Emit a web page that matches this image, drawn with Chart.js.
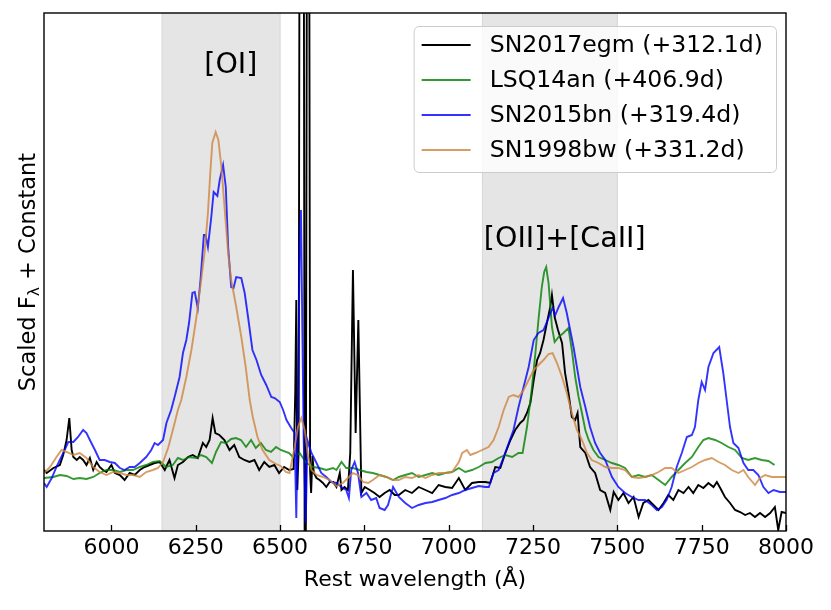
<!DOCTYPE html>
<html><head><meta charset="utf-8">
<script src="https://cdn.jsdelivr.net/npm/chart.js@4.4.1/dist/chart.umd.min.js"></script>
<style>html,body{margin:0;padding:0;background:#fff}canvas{display:block}</style>
</head><body>
<canvas id="c" width="831" height="610"></canvas>
<script>
// ---- data ----
const xTicks = [6000,6250,6500,6750,7000,7250,7500,7750,8000];
const bandStart = [6150, 7100];
const bandEnd = [6500, 7500];
const lineNames = ['[OI]', '[OII]+[CaII]'];
const lineNameX = [6354, 7344];
const lineNameY = [465, 291];
const seriesLabels = ['SN2017egm (+312.1d)', 'LSQ14an (+406.9d)', 'SN2015bn (+319.4d)', 'SN1998bw (+331.2d)'];

const egmWave = [5800,5808,5828,5847,5857,5867,5875,5882,5887,5897,5906,5916,5926,5936,5946,5956,5965,5975,5985,6000,
 6010,6025,6039,6054,6069,6084,6098,6113,6128,6143,6158,6172,6187,6197,6212,6227,6241,6256,6271,6281,
 6291,6300,6308,6320,6335,6350,6364,6379,6394,6409,6424,6438,6453,6468,6483,6497,6512,6527,
 6540,6545,6548,6551,6555,6558,6562,6570,6573,6576,6580,6586,6589,6592,6596,6600,
 6608,6617,6627,6637,6647,6657,6667,6677,6682,6691,6701,6708,6716,6724,6732,6741,6751,6766,6780,6795,6810,6825,6840,
 6852,6871,6891,6911,6931,6951,6970,6990,7010,7030,7049,7069,7089,7109,7123,7138,7153,7168,7183,7197,
 7212,7222,7232,7242,7252,7262,7271,7281,7291,7301,7306,7314,7324,7336,7345,7355,7365,7375,7382,7390,
 7405,7419,7434,7449,7464,7479,7489,7503,7518,7533,7548,7563,7577,7592,7607,7622,7637,7651,7666,7681,
 7696,7711,7725,7740,7755,7770,7785,7795,7805,7819,7834,7849,7864,7879,7893,7908,7923,7938,7953,7967,
 7977,7987,8000];
const egmFlux = [61,58,63,66,76,91,113,81,74,71,74,71,66,73,61,69,64,61,59,66,
 58,56,51,58,56,61,64,66,68,69,61,71,53,66,69,74,76,73,88,84,
 91,113,98,96,91,81,86,74,71,69,71,61,69,64,66,58,64,61,
 62,140,231,41,80,700,700,700,-60,-60,700,700,60,38,75,58,
 53,51,48,44,49,49,44,58,41,44,41,78,261,98,211,38,44,41,38,34,38,41,36,
 36,41,38,44,41,38,46,44,43,53,41,48,49,49,48,64,63,78,91,101,
 108,111,118,128,151,171,178,191,208,224,236,214,201,188,158,138,114,111,118,84,
 78,64,58,41,38,21,39,31,38,28,34,14,28,31,26,21,28,36,31,41,
 38,44,38,46,43,48,44,49,43,34,28,21,19,16,18,14,18,14,18,24,
 1,19,18];

const lsqWave = [5800,5828,5847,5867,5887,5906,5926,5946,5965,5985,6005,6025,6044,6064,6084,6103,6123,6143,6162,6182,
 6197,6212,6231,6251,6266,6281,6298,6310,6325,6340,6355,6369,6384,6399,6414,6428,6443,6458,6473,6488,6502,6527,
 6538,6558,6578,6598,6617,6637,6657,6667,6682,6696,6716,6736,6756,6775,6795,6815,6835,
 6852,6871,6891,6911,6931,6951,6970,6990,7010,7030,7049,7069,7089,7109,7128,7148,7168,7188,7207,7219,
 7232,7245,7257,7266,7276,7283,7289,7296,7306,7314,7326,7340,7355,7365,7375,7385,7395,7405,7415,7429,
 7444,7464,7484,7503,7523,7543,7563,7582,7602,7622,7642,7661,7681,7701,7721,7740,7755,7770,7790,7809,
 7829,7849,7869,7888,7908,7928,7948,7966];
const lsqFlux = [53,54,56,55,52,53,52,54,58,61,61,59,61,61,64,66,69,70,64,66,
 73,71,74,73,76,74,68,79,89,88,92,93,91,84,91,83,88,81,79,84,81,78,
 74,78,68,64,63,61,63,61,69,63,63,61,59,58,56,54,51,
 54,56,58,54,56,58,56,58,59,63,59,61,64,68,69,73,76,74,78,78,
 104,138,178,211,244,259,264,248,204,189,194,198,203,181,154,134,118,101,91,81,
 74,71,68,66,63,54,56,54,56,51,46,54,61,68,74,84,91,93,91,88,
 84,81,73,71,73,71,70,66];

const bnWave = [5800,5808,5823,5837,5857,5872,5887,5901,5916,5926,5936,5951,5965,5980,5995,6010,6025,6039,6054,6069,
 6084,6103,6118,6128,6138,6153,6163,6177,6188,
 6202,6212,6222,6230,6240,6247,6256,6264,6274,6279,6286,6296,6303,6314,6321,6331,6339,6346,6355,6362,
 6370,6385,6395,6405,6418,6430,6444,6459,6474,6484,
 6499,6509,6519,6533,6543,6548,6553,6558,6562,6566,6570,6576,6581,6593,6608,6622,6637,6652,6667,6682,
 6696,6704,6711,6721,6731,6741,6756,6770,6785,6795,6810,6820,6835,
 6852,6871,6891,6911,6931,6951,6970,6990,7010,7030,7049,7069,7089,7109,7119,7133,7148,7163,7178,7192,
 7207,7222,7237,7252,7266,7281,7296,7308,7316,7326,7339,7350,7360,7370,7380,7390,7405,7419,7434,7449,
 7464,7484,7503,7523,7543,7563,7582,7602,7617,7632,7646,7661,7676,7691,7706,7721,7730,7740,7750,7760,
 7770,7785,7802,7814,7824,7834,7844,7859,7874,7888,7903,7918,7933,7948,7963,7982,8000];
const bnFlux = [48,44,53,64,78,89,89,94,101,98,91,81,71,71,69,68,63,61,64,64,
 68,74,81,88,86,91,108,121,135,
 154,178,191,208,238,239,223,251,296,296,284,314,339,335,351,366,344,284,244,243,
 254,253,238,214,181,171,156,146,134,133,
 129,121,111,103,98,13,120,280,321,200,91,8,91,78,68,58,54,49,48,44,
 41,33,61,69,58,34,38,31,33,23,21,26,44,
 34,28,23,26,28,29,31,33,36,38,41,43,45,44,44,58,61,74,88,101,
 124,144,164,191,198,201,213,223,216,224,233,218,201,184,164,144,124,104,88,78,
 71,54,44,38,34,31,31,26,21,24,31,44,64,78,94,96,104,131,149,141,
 164,178,184,158,131,104,88,83,68,61,61,56,44,38,41,39,39];

const bwWave = [5800,5818,5837,5852,5867,5887,5906,5926,5946,5965,5985,6005,6025,6044,6064,6084,6103,6123,6138,6153,
 6168,6182,6197,6207,
 6222,6237,6252,6266,6276,6286,6293,6299,6309,6317,6326,6336,6346,6355,6370,6385,6398,6410,6419,6433,
 6448,6468,6488,6502,6517,6528,
 6543,6553,6563,6573,6583,6593,6608,6627,6647,6667,6686,6701,6716,6731,6746,6761,6775,6795,6815,6835,
 6852,6871,6891,6911,6931,6951,6970,6990,7010,7030,7040,7054,7064,7079,7099,7118,7133,7148,7163,7178,
 7192,7207,7222,7237,7252,7266,7281,7296,7308,7321,7336,7350,7365,7380,7395,7410,7424,7444,7464,7484,
 7503,7523,7543,7563,7582,7602,7622,7642,7661,7681,7701,7721,7740,7760,7780,7800,7819,7839,7859,7874,
 7888,7908,7923,7938,7958,7977,8000];
const bwFlux = [58,64,74,81,79,76,78,73,64,59,56,59,58,56,56,54,59,61,63,69,
 83,101,121,131,
 154,181,214,251,278,318,358,388,399,391,364,321,278,251,224,194,164,131,114,94,
 81,71,67,65,59,58,
 84,104,113,101,74,61,56,54,51,45,48,53,58,56,49,48,51,56,54,51,
 51,54,53,56,53,56,58,58,59,69,78,81,76,78,81,84,91,104,121,134,
 136,134,141,151,161,166,171,177,178,168,154,138,118,101,91,78,71,68,64,63,
 63,61,54,53,54,56,59,63,63,58,61,64,68,71,73,69,66,61,58,61,
 54,46,53,56,54,54,54];

// ---- styling ----
const FONT = 'DejaVu Sans';
Chart.defaults.font.family = FONT;
Chart.defaults.color = '#000';

function makeSet(label, wave, flux, color, order) {
  return {
    label, order,
    data: wave.map((x, i) => ({x, y: flux[i]})),
    borderColor: color, backgroundColor: color,
    borderWidth: 1.9, pointRadius: 0, tension: 0, fill: false, clip: 0
  };
}

const decor = {
  id: 'decor',
  beforeDatasetsDraw(chart) {
    const {ctx, chartArea: a, scales: {x}} = chart;
    ctx.save();
    for (let i = 0; i < bandStart.length; i++) {
      const x0 = x.getPixelForValue(bandStart[i]);
      const x1 = x.getPixelForValue(bandEnd[i]);
      ctx.fillStyle = '#e5e5e5';
      ctx.fillRect(x0, a.top, x1 - x0, a.bottom - a.top);
      ctx.strokeStyle = '#d6d6d6';
      ctx.lineWidth = 1;
      ctx.beginPath();
      ctx.moveTo(x0, a.top); ctx.lineTo(x0, a.bottom);
      ctx.moveTo(x1, a.top); ctx.lineTo(x1, a.bottom);
      ctx.stroke();
    }
    ctx.restore();
  },
  afterDatasetsDraw(chart) {
    const {ctx, chartArea: a, scales: {x, y}} = chart;
    ctx.save();
    // frame
    ctx.strokeStyle = '#000';
    ctx.lineWidth = 1.4;
    ctx.strokeRect(a.left, a.top, a.right - a.left, a.bottom - a.top);
    // inward ticks
    ctx.lineWidth = 1.3;
    ctx.beginPath();
    xTicks.forEach(v => {
      const px = Math.round(x.getPixelForValue(v)) + 0.5;
      ctx.moveTo(px, a.bottom); ctx.lineTo(px, a.bottom - 6);
    });
    ctx.stroke();
    // line identifications
    ctx.fillStyle = '#000';
    ctx.font = '28.5px "' + FONT + '"';
    ctx.textAlign = 'center';
    ctx.textBaseline = 'middle';
    lineNames.forEach((t, i) => {
      ctx.fillText(t, x.getPixelForValue(lineNameX[i]), y.getPixelForValue(lineNameY[i]));
    });
    // legend
    ctx.font = '23.6px "' + FONT + '"';
    let maxW = 0;
    chart.data.datasets.forEach(d => { maxW = Math.max(maxW, ctx.measureText(d.label).width); });
    const bw = 76 + maxW + 13, bh = 146;
    const bx = a.right - 10 - bw, by = a.top + 13;
    ctx.beginPath();
    ctx.roundRect(bx + 0.5, by + 0.5, bw, bh, 5);
    ctx.fillStyle = 'rgba(255,255,255,0.8)';
    ctx.fill();
    ctx.strokeStyle = '#cccccc';
    ctx.lineWidth = 1;
    ctx.stroke();
    ctx.textAlign = 'left';
    ctx.textBaseline = 'middle';
    chart.data.datasets.forEach((d, i) => {
      const ry = by + 19 + i * 35;
      ctx.strokeStyle = d.borderColor;
      ctx.lineWidth = 2;
      ctx.beginPath();
      ctx.moveTo(bx + 8, ry); ctx.lineTo(bx + 57, ry);
      ctx.stroke();
      ctx.fillStyle = '#000';
      ctx.fillText(d.label, bx + 76, ry + 1);
    });
    // y-axis title with subscript
    const cy = (a.top + a.bottom) / 2;
    ctx.translate(27, cy);
    ctx.rotate(-Math.PI / 2);
    const f1 = '22.5px "' + FONT + '"', f2 = '15.5px "' + FONT + '"';
    const p1 = 'Scaled F', p2 = '\u03bb', p3 = ' + Constant';
    ctx.font = f1; const w1 = ctx.measureText(p1).width, w3 = ctx.measureText(p3).width;
    ctx.font = f2; const w2 = ctx.measureText(p2).width;
    let sx = -(w1 + w2 + w3) / 2;
    ctx.fillStyle = '#000';
    ctx.textAlign = 'left';
    ctx.textBaseline = 'alphabetic';
    const base = 8;
    ctx.font = f1; ctx.fillText(p1, sx, base); sx += w1;
    ctx.font = f2; ctx.fillText(p2, sx, base + 4); sx += w2;
    ctx.font = f1; ctx.fillText(p3, sx, base);
    ctx.restore();
  }
};

new Chart(document.getElementById('c'), {
  type: 'line',
  data: {
    datasets: [
      makeSet(seriesLabels[0], egmWave, egmFlux, '#000000', 4),
      makeSet(seriesLabels[1], lsqWave, lsqFlux, 'rgba(0,128,0,0.8)', 3),
      makeSet(seriesLabels[2], bnWave, bnFlux, 'rgba(0,0,255,0.8)', 2),
      makeSet(seriesLabels[3], bwWave, bwFlux, 'rgba(205,133,63,0.8)', 1)
    ]
  },
  options: {
    responsive: false,
    animation: false,
    layout: {padding: {left: 44, right: 45, top: 13, bottom: 0}},
    plugins: {legend: {display: false}, tooltip: {enabled: false}},
    scales: {
      x: {
        type: 'linear', min: 5800, max: 8000,
        afterBuildTicks: s => { s.ticks = xTicks.map(v => ({value: v})); },
        afterFit: s => { s.height = 79; },
        ticks: {font: {size: 22}, color: '#000', padding: 4, maxRotation: 0, autoSkip: false,
                callback: v => String(v)},
        grid: {display: false, drawTicks: false},
        border: {display: false},
        title: {display: true, text: 'Rest wavelength (\u00c5)', font: {size: 22}, color: '#000',
                padding: {top: 0, bottom: 17}}
      },
      y: {
        type: 'linear', min: 0, max: 518, display: false
      }
    }
  },
  plugins: [decor]
});
</script>
</body></html>
